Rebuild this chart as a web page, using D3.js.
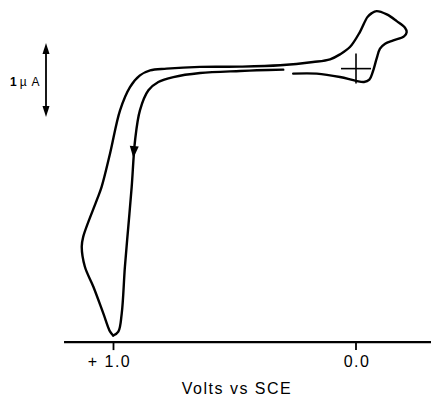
<!DOCTYPE html>
<html>
<head>
<meta charset="utf-8">
<script src="https://cdn.jsdelivr.net/npm/d3@7"></script>
<style>
  html, body { margin: 0; padding: 0; background: #fff; }
  svg { display: block; font-family: "Liberation Sans", Arial, sans-serif; }
</style>
</head>
<body>
<svg id="chart"></svg>
<script>
// potential (V vs SCE) and current (uA)
const forwardV = [0.300, 0.409, 0.478, 0.643, 0.753, 0.815, 0.856, 0.891, 0.911, 0.925, 0.939, 0.953, 0.966, 0.980, 1.001];
const forwardI = [-0.014, -0.023, -0.032, -0.059, -0.114, -0.181, -0.293, -0.564, -0.969, -1.600, -2.141, -2.681, -3.311, -3.559, -3.611];

const reverseV = [1.001, 1.014, 1.042, 1.083, 1.118, 1.131, 1.125, 1.069, 1.049, 1.014, 0.973, 0.932, 0.891, 0.849, 0.781,
  0.643, 0.478, 0.313, 0.177, 0.107, 0.066, 0.025, -0.016, -0.047, -0.065, -0.085, -0.127, -0.168, -0.202, -0.209,
  -0.198, -0.154, -0.120, -0.099, -0.085, -0.069, -0.055, -0.033, 0.000, 0.066, 0.162, 0.259];
const reverseI = [-3.611, -3.559, -3.311, -2.951, -2.681, -2.411, -2.276, -1.780, -1.600, -1.145, -0.564, -0.249, -0.091, -0.023, 0.000,
  0.024, 0.027, 0.045, 0.089, 0.126, 0.193, 0.292, 0.495, 0.697, 0.751, 0.778, 0.734, 0.643, 0.554, 0.495,
  0.436, 0.382, 0.338, 0.270, 0.135, -0.046, -0.149, -0.181, -0.165, -0.114, -0.068, -0.068];

const tickV = [1.0, 0.0];
const tickLabels = ['+ 1.0', '0.0'];
const scaleBarI = [0.346, -0.654]; // 1 uA bar
const arrowAt = { v: 0.918, i: -1.21 };

const width = 431, height = 396;

const x = d3.scaleLinear().domain([1.0, 0.0]).range([113.5, 356]);
const y = d3.scaleLinear().domain([-3.7, 0.9]).range([342.1, 2.1]);

const svg = d3.select('#chart').attr('width', width).attr('height', height);

const line = d3.line()
  .x(d => x(d[0]))
  .y(d => y(d[1]))
  .curve(d3.curveCatmullRom.alpha(0.5));

const fwd = forwardV.map((v, i) => [v, forwardI[i]]);
const rev = reverseV.map((v, i) => [v, reverseI[i]]);

svg.selectAll('path.trace')
  .data([fwd, rev])
  .join('path')
  .attr('class', 'trace')
  .attr('d', line)
  .attr('fill', 'none')
  .attr('stroke', '#000')
  .attr('stroke-width', 2.4)
  .attr('stroke-linecap', 'round');

// sweep direction arrow
const ax = x(arrowAt.v), ay = y(arrowAt.i);
const ang = Math.atan2(y(forwardI[9]) - y(forwardI[8]), x(forwardV[9]) - x(forwardV[8])) * 180 / Math.PI - 90;
svg.append('path')
  .attr('d', 'M0,0 L-4.5,-12 L4.5,-12 Z')
  .attr('transform', `translate(${ax},${ay}) rotate(${ang})`)
  .attr('fill', '#000');

// origin cross (0 V, 0 uA)
const g0 = svg.append('g').attr('stroke', '#000').attr('stroke-width', 1.6);
g0.append('line').attr('x1', x(0) - 15).attr('x2', x(0) + 15).attr('y1', y(0)).attr('y2', y(0));
g0.append('line').attr('x1', x(0)).attr('x2', x(0)).attr('y1', y(0) - 15).attr('y2', y(0) + 15);

// potential axis
const xAxis = svg.append('g');
xAxis.append('line')
  .attr('x1', x(1.204)).attr('x2', x(-0.31))
  .attr('y1', y(-3.7)).attr('y2', y(-3.7))
  .attr('stroke', '#000').attr('stroke-width', 2.2);
xAxis.selectAll('line.tick')
  .data(tickV)
  .join('line')
  .attr('class', 'tick')
  .attr('x1', d => x(d)).attr('x2', d => x(d))
  .attr('y1', y(-3.7)).attr('y2', y(-3.7) + 8)
  .attr('stroke', '#000').attr('stroke-width', 1.8);
xAxis.selectAll('text')
  .data(tickV)
  .join('text')
  .attr('x', (d, i) => x(d) + (i === 0 ? -4 : 1))
  .attr('y', 367)
  .attr('text-anchor', 'middle')
  .attr('font-size', 16)
  .attr('letter-spacing', 1.5)
  .text((d, i) => tickLabels[i]);

svg.append('text')
  .attr('x', 237)
  .attr('y', 394)
  .attr('text-anchor', 'middle')
  .attr('font-size', 16)
  .attr('letter-spacing', 1.5)
  .text('Volts vs SCE');

// current scale bar
const sb = svg.append('g');
sb.append('line')
  .attr('x1', 46).attr('x2', 46)
  .attr('y1', y(scaleBarI[0]) + 8).attr('y2', y(scaleBarI[1]) - 8)
  .attr('stroke', '#000').attr('stroke-width', 1.8);
sb.append('path')
  .attr('d', `M46,${y(scaleBarI[0])} L42.5,${y(scaleBarI[0]) + 11} L49.5,${y(scaleBarI[0]) + 11} Z`)
  .attr('fill', '#000');
sb.append('path')
  .attr('d', `M46,${y(scaleBarI[1])} L42.5,${y(scaleBarI[1]) - 11} L49.5,${y(scaleBarI[1]) - 11} Z`)
  .attr('fill', '#000');
const lbl = sb.append('text')
  .attr('x', 10)
  .attr('y', 86)
  .attr('font-size', 12);
lbl.append('tspan').attr('font-weight', 'bold').text('1');
lbl.append('tspan').attr('dx', 3).text('µ');
lbl.append('tspan').attr('dx', 5).text('A');
</script>
</body>
</html>
